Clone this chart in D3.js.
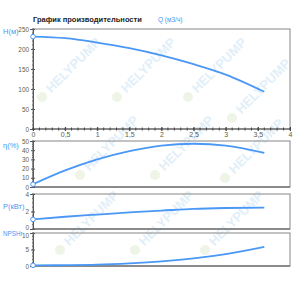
<!DOCTYPE html>
<html><head><meta charset="utf-8">
<script src="https://cdn.jsdelivr.net/npm/d3@7"></script>
<style>body{margin:0;background:#fff}svg{display:block}</style>
</head><body>
<svg id="c" width="300" height="289"></svg>
<script>
const flow = [0, 0.5, 1, 1.5, 2, 2.5, 3, 3.6];
const head = [231, 227, 216, 202, 184, 162, 136, 93];
const efficiency = [3, 18, 30, 39, 45, 47, 45, 37];
const power = [1.1, 1.4, 1.65, 1.9, 2.1, 2.3, 2.4, 2.45];
const npsh = [0.2, 0.25, 0.4, 0.8, 1.4, 2.3, 3.6, 5.8];
const xTicks = [0, 0.5, 1, 1.5, 2, 2.5, 3, 3.5, 4];
const title = "График производительности";
const xLabel = "Q (м3/ч)";

const svg = d3.select("#c");
const blue = "#4a97f5", tickCol = "#5b6248", font = "Liberation Sans, Arial, sans-serif";
const x = d3.scaleLinear().domain([0, 4]).range([33, 290]);

// watermark (faint, inside the chart area)
const wm = svg.append("g");
const spots = [[42, 97], [117, 97], [188, 97], [232, 118], [80, 175], [155, 175], [225, 178], [60, 250], [135, 250], [205, 250]];
spots.forEach(([cx, cy]) => {
  const g = wm.append("g").attr("transform", `translate(${cx},${cy})`);
  g.append("circle").attr("r", 5).attr("fill", "#eef5e6");
  g.append("text").attr("transform", "rotate(-45) translate(9,4)")
    .attr("font-family", font).attr("font-weight", "bold").attr("font-size", 13)
    .attr("fill", "#e2eff9").text("HELYPUMP");
});

const panels = [
  {vals: head, dom: [0, 250], r: [129, 29], major: d3.range(0, 251, 50), minor: d3.range(0, 251, 10), label: "H(м)", ly: 34, fs: 7.5, nudge: [0, 0]},
  {vals: efficiency, dom: [0, 50], r: [187, 141], major: d3.range(0, 51, 10), minor: d3.range(0, 51, 2), label: "η(%)", ly: 148, fs: 7.5, nudge: [0, 0]},
  {vals: power, dom: [0, 4], r: [229, 194], major: [0, 2, 4], minor: d3.range(0, 4.01, 0.5), label: "P(кВт)", ly: 209, fs: 7.5, nudge: [-2, 0]},
  {vals: npsh, dom: [0, 10], r: [266, 233], major: [0, 5, 10], minor: d3.range(0, 10.01, 1), label: "NPSHr", ly: 236, fs: 6.3, nudge: [0, 2]}
];

panels.forEach((p, k) => {
  const y = d3.scaleLinear().domain(p.dom).range(p.r);
  const g = svg.append("g");
  g.append("rect").attr("x", 33).attr("y", p.r[1]).attr("width", 257).attr("height", p.r[0] - p.r[1])
    .attr("fill", "none").attr("stroke", "#9a9a9a").attr("stroke-width", 1.2);
  const ya = g.append("g").attr("transform", "translate(33,0)")
    .call(d3.axisLeft(y).tickValues(p.major).tickSize(3).tickFormat(d3.format("d")));
  ya.select(".domain").attr("stroke", "#555");
  ya.selectAll("text").attr("fill", tickCol).attr("font-size", 6.4).attr("font-family", font).attr("x", -4)
    .attr("y", d => d === p.dom[0] ? p.nudge[0] : d === p.dom[1] ? p.nudge[1] : 0);
  ya.selectAll("line").attr("stroke", "#555").attr("x1", -2).attr("x2", 2);
  g.selectAll(".mn").data(p.minor).enter().append("line")
    .attr("x1", 32).attr("x2", 34).attr("y1", d => y(d)).attr("y2", d => y(d)).attr("stroke", "#666");
  g.append("line").attr("x1", 33).attr("x2", 290).attr("y1", p.r[0]).attr("y2", p.r[0]).attr("stroke", "#555").attr("stroke-width", 1.2);
  if (k === 0) {
    const xa = g.append("g").attr("transform", `translate(0,${p.r[0]})`)
      .call(d3.axisBottom(x).tickValues(xTicks).tickSize(3).tickFormat(d => String(d).replace(".", ",")));
    xa.select(".domain").remove();
    xa.selectAll("line").attr("stroke", "#444").attr("y1", -2).attr("y2", 2);
    xa.selectAll("text").attr("fill", tickCol).attr("font-size", 7).attr("font-family", font).attr("y", 3);
    g.selectAll(".mx").data(d3.range(0, 4.01, 0.1)).enter().append("line")
      .attr("x1", d => x(d)).attr("x2", d => x(d)).attr("y1", p.r[0] - 1.5).attr("y2", p.r[0] + 1.5).attr("stroke", "#444");
  }
  g.append("text").attr("x", 3).attr("y", p.ly).attr("fill", blue).attr("font-size", p.fs).attr("font-family", font).text(p.label);
  const line = d3.line().x((d, i) => x(flow[i])).y(d => y(d)).curve(d3.curveMonotoneX);
  g.append("path").datum(p.vals).attr("d", line).attr("fill", "none").attr("stroke", blue).attr("stroke-width", 1.8);
  g.append("circle").attr("cx", x(flow[0])).attr("cy", y(p.vals[0])).attr("r", 2.3)
    .attr("fill", "#fff").attr("stroke", blue).attr("stroke-width", 1);
});

svg.append("text").attr("x", 33).attr("y", 22).attr("font-size", 7.5).attr("font-weight", "bold")
  .attr("font-family", font).attr("fill", "#222").text(title);
svg.append("text").attr("x", 158).attr("y", 22).attr("font-size", 6.5).attr("font-family", font)
  .attr("fill", blue).text(xLabel);
</script>
</body></html>
